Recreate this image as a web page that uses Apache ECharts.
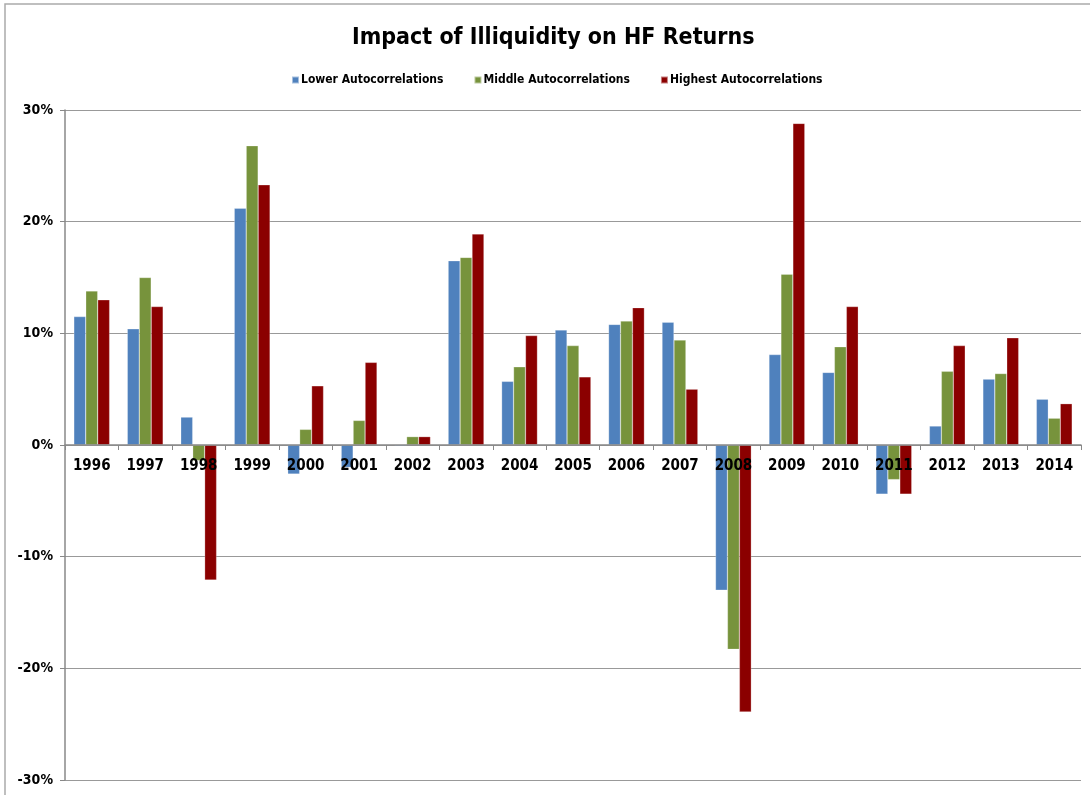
<!DOCTYPE html>
<html>
<head>
<meta charset="utf-8">
<script src="https://cdn.jsdelivr.net/npm/echarts@6/dist/echarts.min.js"></script>
<style>
  html, body { margin: 0; padding: 0; background: #fff; }
  #chart { width: 1090px; height: 795px; }
</style>
</head>
<body>
<div id="chart"></div>
<script>
  // values, in percent
  const years = ["1996", "1997", "1998", "1999", "2000", "2001", "2002", "2003", "2004", "2005",
    "2006", "2007", "2008", "2009", "2010", "2011", "2012", "2013", "2014"];
  const lowerAuto = [11.5, 10.4, 2.5, 21.2, -2.6, -2.0, -0.1, 16.5, 5.7, 10.3,
    10.8, 11.0, -13.0, 8.1, 6.5, -4.4, 1.7, 5.9, 4.1];
  const middleAuto = [13.8, 15.0, -1.4, 26.8, 1.4, 2.2, 0.75, 16.8, 7.0, 8.9,
    11.1, 9.4, -18.3, 15.3, 8.8, -3.1, 6.6, 6.4, 2.4];
  const highestAuto = [13.0, 12.4, -12.1, 23.3, 5.3, 7.4, 0.75, 18.9, 9.8, 6.1,
    12.3, 5.0, -23.9, 28.8, 12.4, -4.4, 8.9, 9.6, 3.7];
  const yTicks = [-30, -20, -10, 0, 10, 20, 30];

  const font = "'Liberation Sans Narrow', 'DejaVu Sans Condensed', sans-serif";

  const chart = echarts.init(document.getElementById("chart"));

  function barSeries(name, data, color) {
    return {
      name: name,
      type: "bar",
      data: data,
      barGap: "0%",
      barCategoryGap: "33%",
      itemStyle: { color: color, borderColor: "rgba(255,255,255,0.5)", borderWidth: 0.5 },
    };
  }

  chart.setOption({
    animation: false,
    backgroundColor: "#fff",
    graphic: [{
      type: "rect",
      shape: { x: 5, y: 4, width: 1090, height: 800 },
      style: { fill: "none", stroke: "#aaa", lineWidth: 1.5 },
      silent: true,
    }],
    title: {
      text: "Impact of Illiquidity on HF Returns",
      left: 347,
      top: 22,
      textStyle: { fontFamily: font, fontWeight: "bold", fontSize: 23, color: "#000" },
    },
    legend: {
      top: 69,
      left: 286,
      itemWidth: 7,
      itemHeight: 7,
      itemGap: 30,
      icon: "rect",
      data: ["Lower Autocorrelations", "Middle Autocorrelations", "Highest Autocorrelations"],
      textStyle: { fontFamily: font, fontWeight: "bold", fontSize: 12, color: "#000", padding: [0, 0, 0, -3] },
    },
    grid: { left: 65, right: 9, top: 110, bottom: 15, outerBoundsMode: "none" },
    xAxis: {
      type: "category",
      data: years,
      z: 5,
      axisLine: { onZero: true, lineStyle: { color: "#888", width: 1.5 } },
      axisTick: { show: true, alignWithLabel: false, length: 5, lineStyle: { color: "#888" } },
      axisLabel: { show: false },
    },
    yAxis: {
      type: "value",
      min: yTicks[0],
      max: yTicks[yTicks.length - 1],
      interval: 10,
      axisLine: { show: true, lineStyle: { color: "#888", width: 1.5 } },
      axisTick: { show: true, length: 5, lineStyle: { color: "#888" } },
      splitLine: { lineStyle: { color: "#999", width: 1 } },
      axisLabel: {
        fontFamily: font, fontWeight: "bold", fontSize: 14, color: "#000", margin: 12,
        formatter: (v) => v + "%",
      },
    },
    series: [
      barSeries("Lower Autocorrelations", lowerAuto, "#4F81BD"),
      barSeries("Middle Autocorrelations", middleAuto, "#77933C"),
      barSeries("Highest Autocorrelations", highestAuto, "#8B0000"),
      {
        // year labels sitting just under the zero line, drawn over the bars
        name: "yearLabels",
        type: "scatter",
        data: years.map((y) => [y, 0]),
        symbolSize: 0,
        z: 10,
        silent: true,
        itemStyle: { opacity: 1 },
        label: {
          show: true,
          position: "bottom",
          distance: 14,
          formatter: (p) => p.value[0],
          fontFamily: font, fontWeight: "bold", fontSize: 15, color: "#000",
          textBorderWidth: 0,
        },
      },
    ],
  });
</script>
</body>
</html>
